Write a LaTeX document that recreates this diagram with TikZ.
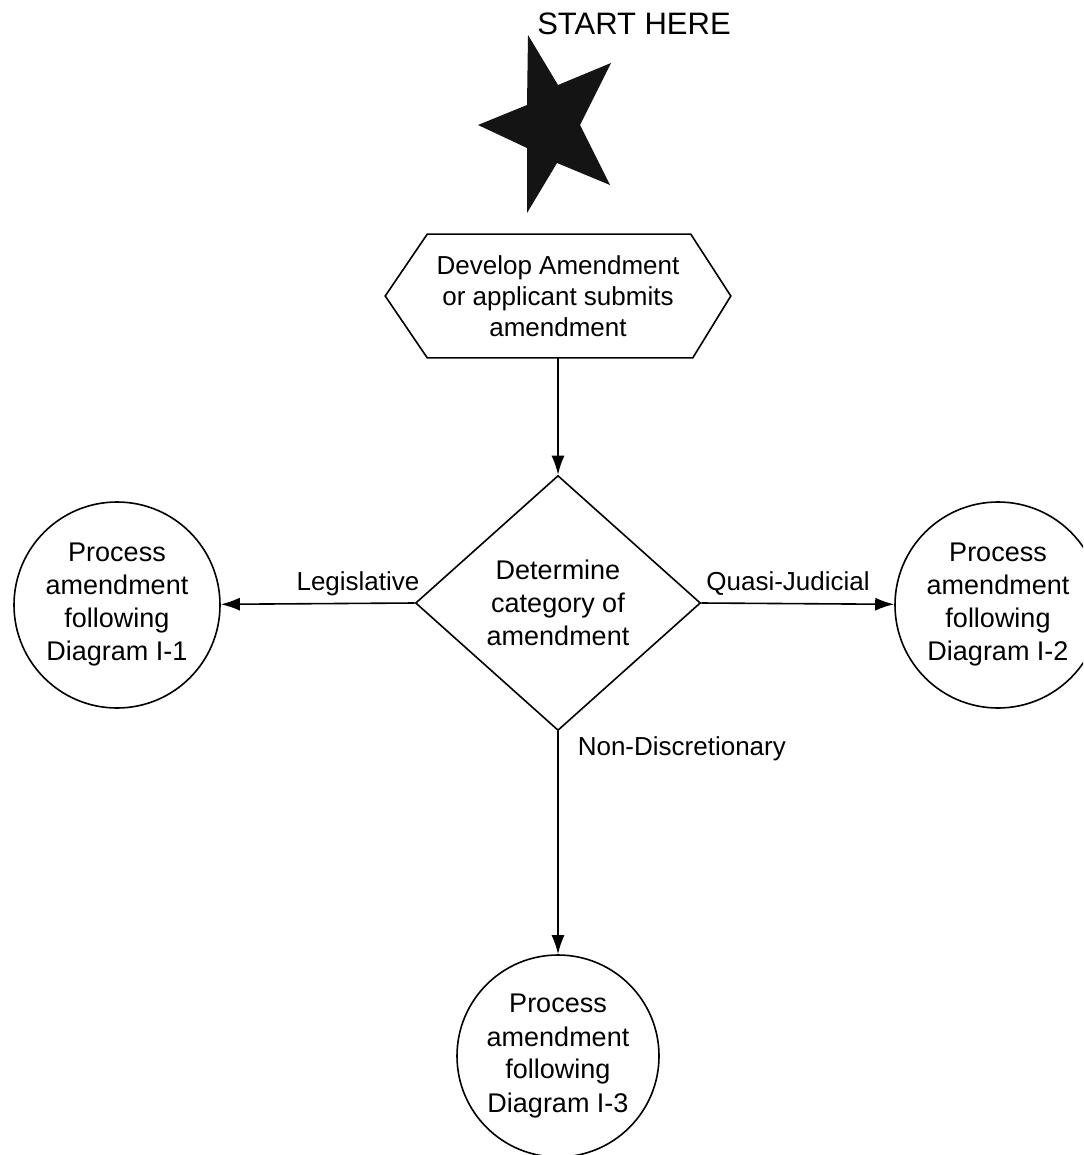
\documentclass[tikz,border=0pt]{standalone}
\usepackage{fontspec}
\setmainfont{Liberation Sans}
\usetikzlibrary{arrows.meta,shapes.geometric}
\begin{document}
\begin{tikzpicture}[x=1pt,y=-1pt,line width=1.6pt,
  arr/.style={-{Latex[length=19pt,width=13pt]}},
  proc/.style={circle,draw,inner sep=0pt,align=center,font=\fontsize{27}{33}\selectfont},
  lbl/.style={font=\fontsize{26}{31}\selectfont,inner sep=0pt}]
\clip (0,0) rectangle (1083,1155);
\fill[white] (0,0) rectangle (1083,1155);
% start
\node[font=\fontsize{31}{37}\selectfont,anchor=base,inner sep=0pt] (start) at (634,35) {START HERE};
\fill[black!92] (528,35) -- (558,85) -- (611,63) -- (580,125) -- (610,185) -- (557,163)
  -- (527,213) -- (527,148) -- (478,125) -- (527,105) -- cycle;
% hexagon
\node[minimum width=344pt,minimum height=122pt,inner sep=0pt,align=center,
  font=\fontsize{26}{31}\selectfont] (hex) at (558,296)
  {Develop Amendment\\or applicant submits\\amendment};
\draw (hex.west) -- ([xshift=42pt]hex.north west) -- ([xshift=-40pt]hex.north east)
  -- (hex.east) -- ([xshift=-38pt]hex.south east) -- ([xshift=42pt]hex.south west) -- cycle;
% decision
\node[diamond,draw,minimum width=285pt,minimum height=255pt,inner sep=0pt,align=center,
  font=\fontsize{27}{33}\selectfont] (dia) at (558,603)
  {Determine\\category of\\amendment};
% outcomes
\node[proc,minimum size=206pt] (c1) at (117,605) {Process\\amendment\\following\\Diagram I-1};
\node[proc,minimum size=206pt] (c2) at (998,605) {Process\\amendment\\following\\Diagram I-2};
\node[proc,minimum size=202pt] (c3) at (558,1056) {Process\\amendment\\following\\Diagram I-3};
% connectors
\draw[arr] (hex.south) -- (dia.north);
\draw[arr] (dia.west) -- (c1);
\draw[arr] (dia.east) -- (c2);
\draw[arr] (dia.south) -- (c3);
% labels
\node[lbl,anchor=base] (leg) at (358,590) {Legislative};
\node[lbl,anchor=base] (qj) at (788,590) {Quasi-Judicial};
\node[lbl,anchor=base west] (nd) at (577,755) {Non-Discretionary};
\end{tikzpicture}
\end{document}
